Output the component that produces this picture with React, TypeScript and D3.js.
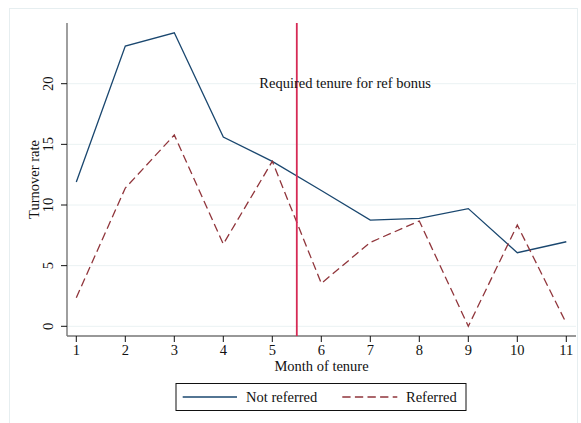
import React, { useEffect, useRef } from 'react';
import * as d3 from 'd3';

const months = [1, 2, 3, 4, 5, 6, 7, 8, 9, 10, 11];
const notReferred = [11.9, 23.1, 24.2, 15.6, 13.6, 11.2, 8.76, 8.9, 9.7, 6.07, 6.97];
const referred = [2.36, 11.4, 15.77, 6.78, 13.6, 3.54, 6.92, 8.68, 0.0, 8.35, 0.25];
const yTicks = [0, 5, 10, 15, 20];
const bonusMonth = 5.5;

const FONT = '"Liberation Serif", "Times New Roman", serif';
const FS = 14.5;

const Chart: React.FC = () => {
  const svgRef = useRef<SVGSVGElement | null>(null);

  useEffect(() => {
    if (!svgRef.current) return;
    const svg = d3.select(svgRef.current);
    svg.selectAll('*').remove();

    const plot = { left: 67, right: 576, top: 23, bottom: 336 };

    const x = d3.scaleLinear().domain([1, 11]).range([76.3, 566.3]);
    const y = d3.scaleLinear().domain([0, 20]).range([326.3, 83.7]);

    // outer frame
    svg.append('rect')
      .attr('x', 9.5).attr('y', 8.5)
      .attr('width', 568).attr('height', 420)
      .attr('fill', 'white')
      .attr('stroke', '#e6eef0');

    // grid lines
    svg.append('g')
      .selectAll('line')
      .data(yTicks)
      .join('line')
      .attr('x1', plot.left).attr('x2', plot.right)
      .attr('y1', d => y(d)).attr('y2', d => y(d))
      .attr('stroke', '#eaf2f3')
      .attr('stroke-width', 1);

    // y axis
    const yAxis = svg.append('g').attr('transform', `translate(${plot.left},0)`);
    yAxis.append('line')
      .attr('x1', 0).attr('x2', 0)
      .attr('y1', plot.top).attr('y2', plot.bottom)
      .attr('stroke', '#767676').attr('stroke-width', 1.4);
    yAxis.selectAll('.tick')
      .data(yTicks)
      .join('line')
      .attr('class', 'tick')
      .attr('x1', -6).attr('x2', 0)
      .attr('y1', d => y(d)).attr('y2', d => y(d))
      .attr('stroke', '#111');
    yAxis.selectAll('.lbl')
      .data(yTicks)
      .join('text')
      .attr('class', 'lbl')
      .attr('transform', d => `translate(-13.7,${y(d)}) rotate(-90)`)
      .attr('text-anchor', 'middle')
      .attr('font-family', FONT)
      .attr('font-size', FS)
      .attr('fill', '#111')
      .text(d => d);

    // x axis
    const xAxis = svg.append('g').attr('transform', `translate(0,${plot.bottom})`);
    xAxis.append('line')
      .attr('x1', plot.left).attr('x2', plot.right)
      .attr('y1', 0).attr('y2', 0)
      .attr('stroke', '#767676').attr('stroke-width', 1.4);
    xAxis.selectAll('.tick')
      .data(months)
      .join('line')
      .attr('class', 'tick')
      .attr('x1', d => x(d)).attr('x2', d => x(d))
      .attr('y1', 0).attr('y2', 6)
      .attr('stroke', '#111');
    xAxis.selectAll('.lbl')
      .data(months)
      .join('text')
      .attr('class', 'lbl')
      .attr('x', d => x(d))
      .attr('y', 19.3)
      .attr('text-anchor', 'middle')
      .attr('font-family', FONT)
      .attr('font-size', FS)
      .attr('fill', '#111')
      .text(d => d);

    // axis titles
    svg.append('text')
      .attr('x', (plot.left + plot.right) / 2)
      .attr('y', 370.7)
      .attr('text-anchor', 'middle')
      .attr('font-family', FONT)
      .attr('font-size', FS)
      .attr('fill', '#111')
      .text('Month of tenure');
    svg.append('text')
      .attr('transform', `translate(39,${(plot.top + plot.bottom) / 2}) rotate(-90)`)
      .attr('text-anchor', 'middle')
      .attr('font-family', FONT)
      .attr('font-size', FS)
      .attr('fill', '#111')
      .text('Turnover rate');

    const line = d3.line<number>()
      .x((_, i) => x(months[i]))
      .y(d => y(d));

    svg.append('path')
      .datum(notReferred)
      .attr('d', line)
      .attr('fill', 'none')
      .attr('stroke', '#1a476f')
      .attr('stroke-width', 1.3);

    svg.append('path')
      .datum(referred)
      .attr('d', line)
      .attr('fill', 'none')
      .attr('stroke', '#90353b')
      .attr('stroke-width', 1.3)
      .attr('stroke-dasharray', '8.3 4.3');

    // bonus line
    svg.append('line')
      .attr('x1', x(bonusMonth)).attr('x2', x(bonusMonth))
      .attr('y1', plot.top).attr('y2', plot.bottom)
      .attr('stroke', '#d62a55')
      .attr('stroke-width', 1.8);

    svg.append('text')
      .attr('x', 259.3)
      .attr('y', 88.3)
      .attr('font-family', FONT)
      .attr('font-size', FS)
      .attr('fill', '#111')
      .text('Required tenure for ref bonus');

    // legend
    const lg = svg.append('g');
    lg.append('rect')
      .attr('x', 176).attr('y', 383.5)
      .attr('width', 290).attr('height', 27)
      .attr('fill', 'white')
      .attr('stroke', '#111')
      .attr('stroke-width', 1);
    lg.append('line')
      .attr('x1', 182.7).attr('x2', 237)
      .attr('y1', 397).attr('y2', 397)
      .attr('stroke', '#1a476f').attr('stroke-width', 1.3);
    lg.append('text')
      .attr('x', 246).attr('y', 402)
      .attr('font-family', FONT).attr('font-size', FS).attr('fill', '#111')
      .text('Not referred');
    lg.append('line')
      .attr('x1', 342.3).attr('x2', 397.3)
      .attr('y1', 397).attr('y2', 397)
      .attr('stroke', '#90353b').attr('stroke-width', 1.3)
      .attr('stroke-dasharray', '8.3 4.3');
    lg.append('text')
      .attr('x', 406).attr('y', 402)
      .attr('font-family', FONT).attr('font-size', FS).attr('fill', '#111')
      .text('Referred');
  }, []);

  return (
    <svg
      ref={svgRef}
      width="581"
      height="423"
      style={{ position: 'absolute', left: 0, top: 0, background: 'white' }}
    ></svg>
  );
};

export default function App() {
  return <Chart />;
}
